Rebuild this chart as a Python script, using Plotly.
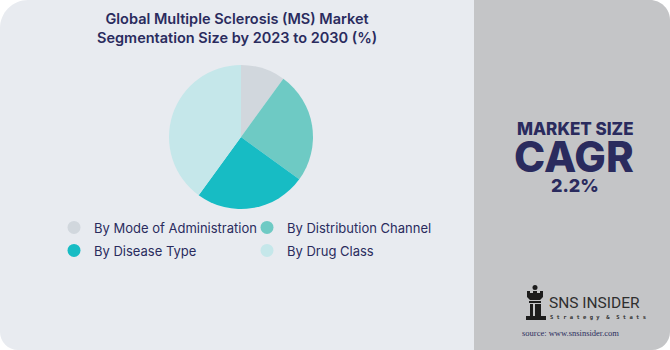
import plotly.graph_objects as go

# ---- data ----
segments = ["By Mode of Administration", "By Distribution Channel", "By Disease Type", "By Drug Class"]
shares = [10, 25, 25, 40]
colors = ["#d1d7dd", "#6ecac4", "#17bcc4", "#c5e7ea"]
title_text = "Global Multiple Sclerosis (MS) Market<br>Segmentation Size by 2023 to 2030 (%)"
cagr_value = "2.2%"

W, H = 670, 350
PW = 474  # plot-area width (left panel)
NAVY = "#2a2b5e"
FONT = "Inter"


def px(x):
    return x / PW


def py(y):
    return 1 - y / H


def rrect(x0, y0, x1, y1, tl=0, tr=0, br=0, bl=0):
    k = 0.45
    p = []
    p.append(f"M{px(x0 + tl)},{py(y0)}")
    p.append(f"L{px(x1 - tr)},{py(y0)}")
    if tr:
        p.append(f"C{px(x1 - tr * k)},{py(y0)} {px(x1)},{py(y0 + tr * k)} {px(x1)},{py(y0 + tr)}")
    p.append(f"L{px(x1)},{py(y1 - br)}")
    if br:
        p.append(f"C{px(x1)},{py(y1 - br * k)} {px(x1 - br * k)},{py(y1)} {px(x1 - br)},{py(y1)}")
    p.append(f"L{px(x0 + bl)},{py(y1)}")
    if bl:
        p.append(f"C{px(x0 + bl * k)},{py(y1)} {px(x0)},{py(y1 - bl * k)} {px(x0)},{py(y1 - bl)}")
    p.append(f"L{px(x0)},{py(y0 + tl)}")
    if tl:
        p.append(f"C{px(x0)},{py(y0 + tl * k)} {px(x0 + tl * k)},{py(y0)} {px(x0 + tl)},{py(y0)}")
    p.append("Z")
    return " ".join(p)


def poly(points):
    return "M" + " L".join(f"{px(x)},{py(y)}" for x, y in points) + " Z"


fig = go.Figure()
fig.add_trace(go.Pie(
    labels=segments, values=shares,
    marker=dict(colors=colors, line=dict(width=0)),
    sort=False, direction="clockwise", rotation=0,
    textinfo="none", hoverinfo="label+percent", showlegend=False,
    domain=dict(x=[px(169), px(313)], y=[py(209), py(65)]),
))

# legend entries with circular symbols (two rows -> two legends)
for i, (name, col) in enumerate(zip(segments, colors)):
    fig.add_trace(go.Scatter(
        x=[None], y=[None], mode="markers", name=name,
        marker=dict(symbol="circle", size=13, color=col),
        legend="legend" if i < 2 else "legend2", hoverinfo="skip",
    ))

shapes = [
    dict(type="path", xref="paper", yref="paper", layer="below",
         path=rrect(0, 0, 474, 350, tl=28, bl=18), fillcolor="#e8ebf0", line=dict(width=0)),
    dict(type="path", xref="paper", yref="paper", layer="below",
         path=rrect(474, 0, 670, 350, tr=20, br=18), fillcolor="#c4c5c7", line=dict(width=0)),
]
# logo icon (chess rook)
ICON = "#1c1c1c"
shapes.append(dict(type="circle", xref="paper", yref="paper", x0=px(532.5), x1=px(537.5), y0=py(290), y1=py(285),
                   fillcolor=ICON, line=dict(width=0)))
shapes.append(dict(type="path", xref="paper", yref="paper",
                   path=poly([(527, 291), (530, 291), (530, 293), (533, 293), (533, 291), (537, 291), (537, 293),
                              (540, 293), (540, 291), (543, 291), (543, 297), (540, 300), (530, 300), (527, 297)]),
                   fillcolor=ICON, line=dict(width=0)))
shapes.append(dict(type="path", xref="paper", yref="paper",
                   path=poly([(529, 301), (541, 301), (541, 303), (529, 303)]),
                   fillcolor=ICON, line=dict(width=0)))
shapes.append(dict(type="path", xref="paper", yref="paper",
                   path=poly([(530, 304), (533, 304), (533, 316), (530, 316)]),
                   fillcolor=ICON, line=dict(width=0)))
shapes.append(dict(type="path", xref="paper", yref="paper",
                   path=poly([(535, 304), (541, 304), (541, 316), (535, 316)]),
                   fillcolor=ICON, line=dict(width=0)))
shapes.append(dict(type="path", xref="paper", yref="paper",
                   path=poly([(526, 316), (546, 316), (546, 320), (526, 320)]),
                   fillcolor=ICON, line=dict(width=0)))

annotations = [
    dict(text=title_text, x=px(237), y=py(28), xref="paper", yref="paper", showarrow=False,
         xanchor="center", yanchor="middle", align="center",
         font=dict(family=FONT, size=14.5, color=NAVY, weight=600)),
    dict(text="MARKET SIZE", x=px(575), y=py(129), xref="paper", yref="paper", showarrow=False,
         xanchor="center", yanchor="middle", font=dict(family=FONT, size=17, color=NAVY, weight=800)),
    dict(text="CAGR", x=px(574), y=py(156), xref="paper", yref="paper", showarrow=False,
         xanchor="center", yanchor="middle", font=dict(family=FONT, size=42, color=NAVY, weight=800)),
    dict(text=cagr_value, x=px(575), y=py(185), xref="paper", yref="paper", showarrow=False,
         xanchor="center", yanchor="middle", font=dict(family=FONT, size=18, color=NAVY, weight=800)),
    dict(text="SNS INSIDER", x=px(547), y=py(303), xref="paper", yref="paper", showarrow=False,
         xanchor="left", yanchor="middle", font=dict(family="Roboto", size=15.5, color="#2f2f2f")),
    dict(text="S t r a t e g y  &  S t a t s", x=px(548), y=py(317), xref="paper", yref="paper", showarrow=False,
         xanchor="left", yanchor="middle", font=dict(family="DejaVu Sans Mono", size=5.5, color="#2f2f2f", weight=700)),
    dict(text="source: www.snsinsider.com", x=px(570), y=py(333), xref="paper", yref="paper", showarrow=False,
         xanchor="center", yanchor="middle", font=dict(family="Liberation Serif", size=8.5, color="#2b2d5c")),
]

legend_common = dict(orientation="h", x=px(54), xanchor="left", yanchor="top",
                     entrywidth=148, entrywidthmode="pixels", traceorder="normal",
                     bgcolor="rgba(0,0,0,0)", itemclick=False, itemdoubleclick=False,
                     font=dict(family=FONT, size=13, color=NAVY))

fig.update_layout(
    width=W, height=H,
    margin=dict(l=0, r=W - PW, t=0, b=0, pad=0),
    paper_bgcolor="#ffffff", plot_bgcolor="rgba(0,0,0,0)",
    xaxis=dict(visible=False), yaxis=dict(visible=False),
    shapes=shapes, annotations=annotations,
    showlegend=True,
    legend=dict(y=py(212.5), **legend_common),
    legend2=dict(y=py(235.5), **legend_common),
)

fig.write_html("out.html")
